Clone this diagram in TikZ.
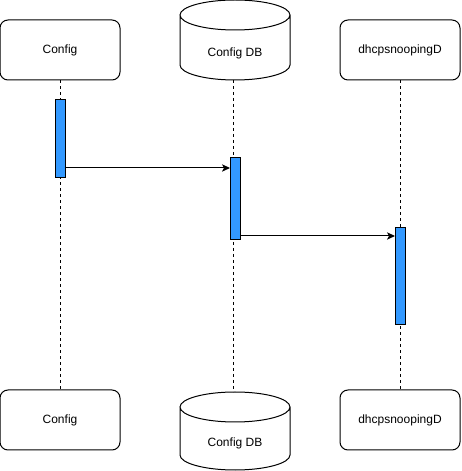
\documentclass[tikz,border=0pt]{standalone}
\usepackage{fontspec}
\setmainfont{Liberation Sans}
\usetikzlibrary{arrows.meta}
\definecolor{actblue}{HTML}{3399FF}
\tikzset{
  x=0.75pt, y=0.75pt,
  every node/.style={font=\fontsize{9pt}{11pt}\selectfont, inner sep=0pt},
  actor/.style={draw, line width=0.75pt, rounded corners=6pt, minimum width=90pt, minimum height=45pt},
  dbshape/.style={draw, line width=0.75pt, fill=white},
  lifeline/.style={line width=0.75pt, dash pattern=on 2.25pt off 2.25pt},
  activation/.style={draw, line width=0.75pt, fill=actblue, minimum width=7.5pt, inner sep=0pt},
  msg/.style={line width=0.75pt, -{Stealth[length=6pt,width=5.5pt,inset=1.5pt]}},
}
\begin{document}
\begin{tikzpicture}
\fill[white] (0,0) rectangle (461,471);
\useasboundingbox (0,0) rectangle (461,471);

% top actors
\node[actor] (cfg1) at (60,421) {Config};
\node[actor] (dhcp1) at (400,421) {dhcpsnoopingD};
\draw[dbshape] (180,456) -- (180,406) arc[start angle=180,end angle=360,x radius=55,y radius=15]
  -- (290,456) arc[start angle=0,end angle=180,x radius=55,y radius=15]
  arc[start angle=180,end angle=360,x radius=55,y radius=15];
\node (cdb1) at (235,418) {Config DB};
\coordinate (cdb1s) at (233,391);

% bottom actors
\node[actor] (cfg2) at (60,51) {Config};
\node[actor] (dhcp2) at (400,51) {dhcpsnoopingD};
\draw[dbshape] (180,64) -- (180,16) arc[start angle=180,end angle=360,x radius=55,y radius=15]
  -- (290,64) arc[start angle=0,end angle=180,x radius=55,y radius=15]
  arc[start angle=180,end angle=360,x radius=55,y radius=15];
\node (cdb2) at (235,28) {Config DB};
\coordinate (cdb2n) at (233,79);

% lifelines
\draw[lifeline] (cfg1.south) -- (cfg2.north);
\draw[lifeline] (cdb1s) -- (cdb2n);
\draw[lifeline] (dhcp1.south) -- (dhcp2.north);

% activations
\node[activation, minimum height=58.5pt] (a1) at (60.5,332) {};
\node[activation, minimum height=61.5pt] (a2) at (235.5,272) {};
\node[activation, minimum height=72.75pt] (a3) at (400.5,194.5) {};

% messages
\coordinate (m1) at (0,303);
\coordinate (m2) at (0,235);
\draw[msg] (a1.east |- m1) -- (a2.west |- m1);
\draw[msg] (a2.east |- m2) -- (a3.west |- m2);
\end{tikzpicture}
\end{document}
